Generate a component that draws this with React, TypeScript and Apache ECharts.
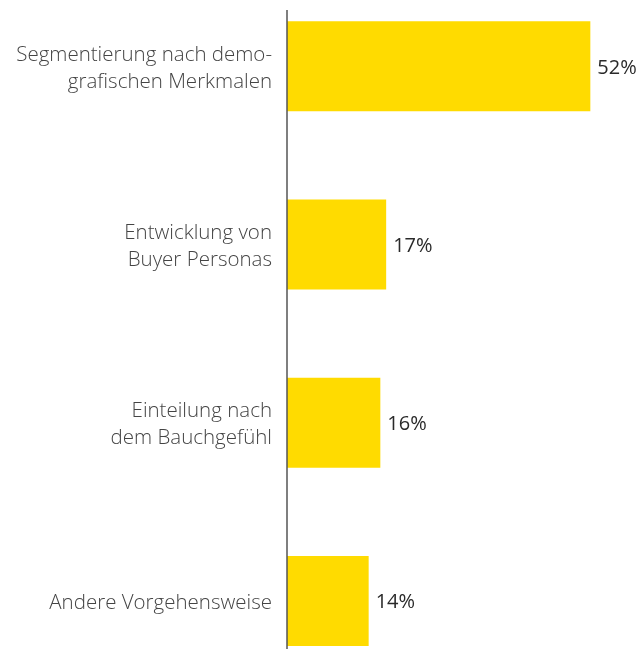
import React, { useEffect, useRef } from "react";
import * as echarts from "echarts";

const categories = [
  "Segmentierung nach demo-\ngrafischen Merkmalen",
  "Entwicklung von\nBuyer Personas",
  "Einteilung nach\ndem Bauchgefühl",
  "Andere Vorgehensweise",
];
const values = [52, 17, 16, 14];

const SHIFT = 23;

export default function App() {
  const ref = useRef<HTMLDivElement>(null);
  useEffect(() => {
    if (!ref.current) return;
    const chart = echarts.init(ref.current, null, { renderer: "svg" });
    chart.setOption({
      animation: false,
      grid: { left: 287, right: 7, top: 0, bottom: 0, containLabel: false },
      xAxis: {
        type: "value",
        min: 0,
        max: 60,
        show: false,
      },
      yAxis: {
        type: "category",
        data: categories,
        inverse: true,
        axisLine: { show: false },
        axisTick: { show: false },
        axisLabel: {
          margin: 15,
          fontFamily: "Open Sans",
          fontWeight: 300,
          fontSize: 20.5,
          lineHeight: 27,
          color: "#444",
          align: "right",
        },
      },
      graphic: [
        {
          type: "line",
          shape: { x1: 287, y1: 10 + SHIFT, x2: 287, y2: 649 + SHIFT },
          style: { stroke: "#555", lineWidth: 1.5 },
          z: 10,
        },
      ],
      series: [
        {
          type: "bar",
          data: values,
          barWidth: 90,
          itemStyle: { color: "#FFDB00" },
          label: {
            show: true,
            position: "right",
            distance: 7,
            formatter: "{c}%",
            fontFamily: "Open Sans",
            fontWeight: 500,
            fontSize: 20,
            color: "#2a2a2a",
          },
        },
      ],
    });
    return () => chart.dispose();
  }, []);
  return (
    <div
      ref={ref}
      style={{ position: "fixed", left: 0, top: -SHIFT, width: 644, height: 713 }}
    />
  );
}
